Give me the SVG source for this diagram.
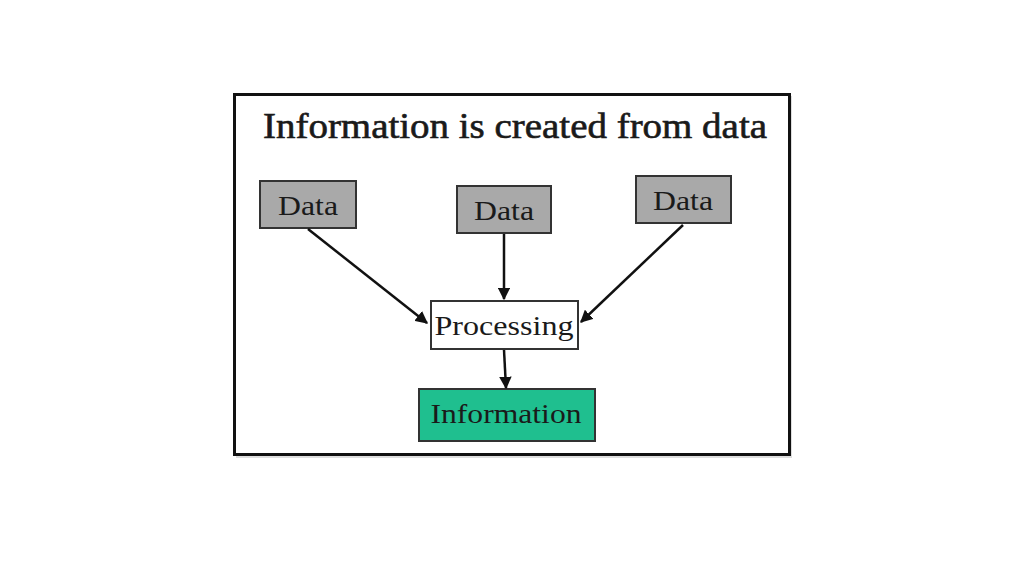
<svg xmlns="http://www.w3.org/2000/svg" width="1024" height="576" viewBox="0 0 1024 576">
<defs>
<style>
.box{stroke:#333;stroke-width:2}
.lbl{font-family:"Liberation Serif","Times New Roman",serif;font-size:27px;fill:#1a1a1a;text-anchor:middle}
.con{stroke:#111;stroke-width:2.5;fill:none;marker-end:url(#ah)}
</style>
<marker id="ah" viewBox="0 0 10 10" refX="9" refY="5" markerWidth="5" markerHeight="5" orient="auto" markerUnits="strokeWidth">
<path d="M0,0 L10,5 L0,10 z" fill="#111"/>
</marker>
</defs>
<rect width="1024" height="576" fill="#ffffff"/>
<g id="frame">
<rect x="236" y="96" width="556" height="362" fill="#c8c8c8" opacity="0.6"/>
<rect x="234.5" y="94.5" width="555" height="360" fill="#ffffff" stroke="#111" stroke-width="3"/>
</g>
<g id="title">
<text x="515" y="138" font-family="Liberation Serif,'Times New Roman',serif" font-size="35" fill="#1a1a1a" stroke="#1a1a1a" stroke-width="0.6" text-anchor="middle" textLength="504" lengthAdjust="spacingAndGlyphs">Information is created from data</text>
</g>
<g id="data1">
<rect class="box" x="260" y="181" width="96" height="47" fill="#a9a9a9"/>
<text class="lbl" x="308" y="215" textLength="60" lengthAdjust="spacingAndGlyphs">Data</text>
</g>
<g id="data2">
<rect class="box" x="457" y="186" width="94" height="47" fill="#a9a9a9"/>
<text class="lbl" x="504" y="220" textLength="60" lengthAdjust="spacingAndGlyphs">Data</text>
</g>
<g id="data3">
<rect class="box" x="636" y="176" width="95" height="47" fill="#a9a9a9"/>
<text class="lbl" x="683" y="210" textLength="60" lengthAdjust="spacingAndGlyphs">Data</text>
</g>
<g id="processing">
<rect class="box" x="431" y="301" width="147" height="48" fill="#ffffff"/>
<text class="lbl" x="504" y="335" textLength="139" lengthAdjust="spacingAndGlyphs">Processing</text>
</g>
<g id="information">
<rect class="box" x="419" y="389" width="176" height="52" fill="#1fbf8f"/>
<text class="lbl" x="506" y="423" fill="#14402e" textLength="151" lengthAdjust="spacingAndGlyphs">Information</text>
</g>
<g id="connectors">
<line class="con" x1="308" y1="229" x2="427" y2="323"/>
<line class="con" x1="504" y1="234" x2="504" y2="299"/>
<line class="con" x1="683" y1="225" x2="581" y2="322"/>
<line class="con" x1="504" y1="350" x2="506" y2="388"/>
</g>
</svg>
